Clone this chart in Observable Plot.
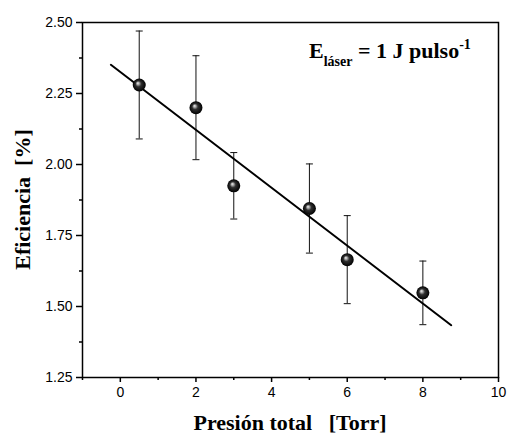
<!DOCTYPE html>
<html>
<head>
<meta charset="utf-8">
<script src="https://cdn.jsdelivr.net/npm/d3@7"></script>
<script src="https://cdn.jsdelivr.net/npm/@observablehq/plot@0.6"></script>
<style>
  html, body { margin: 0; padding: 0; background: white; }
</style>
</head>
<body>
<div id="chart"></div>
<script>
// Data
const pressure = [0.5, 2, 3, 5, 6, 8];                 // Presión total [Torr]
const efficiency = [2.28, 2.20, 1.925, 1.845, 1.665, 1.548]; // Eficiencia [%]
const errorBar = [0.19, 0.183, 0.117, 0.157, 0.155, 0.112];
const fitX = [-0.25, 8.75];
const fitY = [2.351, 1.434];
const xTicks = [0, 2, 4, 6, 8, 10];
const xMinorTicks = [-1, 1, 3, 5, 7, 9];
const yTicks = [1.25, 1.50, 1.75, 2.00, 2.25, 2.50];
const yMinorTicks = [1.375, 1.625, 1.875, 2.125, 2.375];
const xTitle = "Presión total\u00a0\u00a0\u00a0[Torr]";
const yTitle = "Eficiencia\u00a0\u00a0[%]";

const points = pressure.map((x, i) => ({x, y: efficiency[i], e: errorBar[i]}));
const fit = fitX.map((x, i) => ({x, y: fitY[i]}));

const capSymbol = {
  draw(context) {
    context.moveTo(-3.5, 0);
    context.lineTo(3.5, 0);
  }
};

const svg = Plot.plot({
  width: 507,
  height: 434,
  marginLeft: 82,
  marginRight: 9,
  marginTop: 22,
  marginBottom: 57,
  x: {domain: [-1, 10]},
  y: {domain: [1.25, 2.5]},
  style: {fontFamily: "'Liberation Sans', Arial, sans-serif", fontSize: "14px", color: "black", background: "white"},
  marks: [
    Plot.axisX({ticks: xTicks, tickSize: 5, tickPadding: 5, tickFormat: d => String(d), label: null, strokeWidth: 1.5}),
    Plot.axisX({ticks: xMinorTicks, tickSize: 3, tickFormat: () => "", label: null, strokeWidth: 1.5}),
    Plot.axisY({ticks: yTicks, tickSize: 6, tickPadding: 4, tickFormat: d3.format(".2f"), label: null, strokeWidth: 1.5}),
    Plot.axisY({ticks: yMinorTicks, tickSize: 3, tickFormat: () => "", label: null, strokeWidth: 1.5}),
    Plot.ruleX(points, {x: "x", y1: d => d.y - d.e, y2: d => d.y + d.e, stroke: "#111", strokeWidth: 1}),
    Plot.dot(points, {x: "x", y: d => d.y - d.e, symbol: capSymbol, stroke: "#111", strokeWidth: 1, fill: "none"}),
    Plot.dot(points, {x: "x", y: d => d.y + d.e, symbol: capSymbol, stroke: "#111", strokeWidth: 1, fill: "none"}),
    Plot.line(fit, {x: "x", y: "y", stroke: "black", strokeWidth: 2}),
    Plot.dot(points, {x: "x", y: "y", r: 6.5, fill: "url(#sphere)", stroke: "none"}),
    Plot.frame({stroke: "black", strokeWidth: 1.5})
  ]
});

const s = d3.select(svg);
const defs = s.insert("defs", ":first-child");
const grad = defs.append("radialGradient")
  .attr("id", "sphere")
  .attr("cx", "50%").attr("cy", "50%").attr("r", "50%")
  .attr("fx", "38%").attr("fy", "35%");
grad.append("stop").attr("offset", "0%").attr("stop-color", "#f0f0f0");
grad.append("stop").attr("offset", "18%").attr("stop-color", "#b0b0b0");
grad.append("stop").attr("offset", "45%").attr("stop-color", "#303030");
grad.append("stop").attr("offset", "100%").attr("stop-color", "#000000");

const serif = "'Liberation Serif', 'Times New Roman', serif";

// X axis title
s.append("text")
  .attr("x", 290).attr("y", 430)
  .attr("text-anchor", "middle")
  .attr("font-family", serif).attr("font-weight", "bold").attr("font-size", 22)
  .attr("fill", "black")
  .text(xTitle);

// Y axis title
s.append("text")
  .attr("transform", "translate(30,199.5) rotate(-90)")
  .attr("text-anchor", "middle")
  .attr("font-family", serif).attr("font-weight", "bold").attr("font-size", 22)
  .attr("fill", "black")
  .text(yTitle);

// Annotation
const ann = s.append("text")
  .attr("x", 309).attr("y", 58)
  .attr("text-anchor", "start")
  .attr("font-family", serif).attr("font-weight", "bold").attr("font-size", 22)
  .attr("fill", "black");
ann.append("tspan").text("E");
ann.append("tspan").attr("font-size", 14).attr("dy", 8).text("láser");
ann.append("tspan").attr("dy", -8).text(" = 1 J pulso");
ann.append("tspan").attr("font-size", 14).attr("dy", -9).text("-1");

document.getElementById("chart").appendChild(svg);
</script>
</body>
</html>
